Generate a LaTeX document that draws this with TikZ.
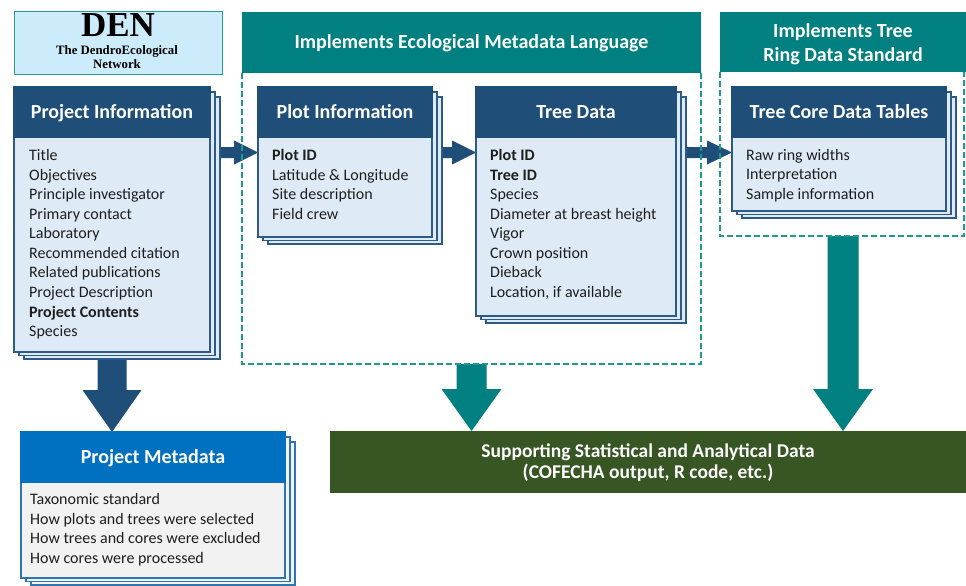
\documentclass[tikz,border=0pt]{standalone}
\usepackage{fontspec}
\setmainfont{Carlito}
\newfontfamily\denfont{Liberation Serif}
\usetikzlibrary{calc}
\definecolor{hdblue}{HTML}{1F4E79}
\definecolor{cardfill}{HTML}{DEEBF7}
\definecolor{cardline}{HTML}{2E5A88}
\definecolor{tealc}{HTML}{008080}
\definecolor{dashc}{HTML}{1F9A92}
\definecolor{denfill}{HTML}{CCECFB}
\definecolor{denline}{HTML}{2A9C96}
\definecolor{pmhead}{HTML}{0070C0}
\definecolor{pmfill}{HTML}{F2F2F2}
\definecolor{pmline}{HTML}{2E75B6}
\definecolor{greenc}{HTML}{375623}
\definecolor{txt}{HTML}{1E1E1E}
\newcommand\backsheets[5]{%
  \draw[#5] (#1+10,#2+10) rectangle (#3+10,#4+7);
  \draw[#5] (#1+5,#2+5) rectangle (#3+5,#4+3.5);}
\newcommand\harrow[6]{\fill[#1] ($(#2)+(0,-#4)$) -- ($(#3)+(-#6,-#4)$) -- ($(#3)+(-#6,-#5)$) -- (#3) -- ($(#3)+(-#6,#5)$) -- ($(#3)+(-#6,#4)$) -- ($(#2)+(0,#4)$) -- cycle;}
\newcommand\varrow[6]{\fill[#1] ($(#2)+(-#4,0)$) -- ($(#3)+(-#4,-#6)$) -- ($(#3)+(-#5,-#6)$) -- (#3) -- ($(#3)+(#5,-#6)$) -- ($(#3)+(#4,-#6)$) -- ($(#2)+(#4,0)$) -- cycle;}
\begin{document}
\begin{tikzpicture}[x=1pt,y=-1pt,
  sheet/.style={draw=cardline, fill=cardfill, line width=1.1pt},
  pmsheet/.style={draw=pmline, fill=pmfill, line width=1.1pt},
  cardhead/.style={draw=hdblue, fill=hdblue, line width=1.1pt, text=white,
    font=\fontsize{20}{24}\selectfont\bfseries, text height=12.8pt, text depth=0pt,
    inner sep=0pt, outer sep=0pt, anchor=south west, minimum height=50pt},
  cardbody/.style={draw=cardline, fill=cardfill, line width=1.1pt, anchor=north west,
    inner sep=0pt, outer sep=0pt},
  bodytext/.style={anchor=north west, align=left, inner sep=0pt, text=txt,
    font=\fontsize{16}{19.55}\selectfont},
  band/.style={fill=tealc, inner sep=0pt, outer sep=0pt, anchor=north west, text=white,
    font=\fontsize{20}{23.3}\selectfont\bfseries},
  bandtext/.style={anchor=north, align=center, inner sep=0pt, text=white},
  region/.style={draw=dashc, line width=1.8pt, dash pattern=on 6pt off 3pt},
  bluearrow/.style={fill=hdblue},
  tealarrow/.style={fill=tealc},
  dentext/.style={anchor=base, inner sep=0pt},
]
\useasboundingbox (0,0) rectangle (966,586);

\coordinate (ay) at (0,152.5);
\coordinate (emlbot) at (0,364);
\coordinate (trbot) at (0,236);

% geometry nodes used by the connectors
\path node[cardbody, draw=none, fill=none, minimum width=196pt, minimum height=215pt] (pibody) at (14,137) {};
\path node[cardbody, draw=none, fill=none, minimum width=174pt, minimum height=100pt] (plotbody) at (258,137) {};
\path node[cardbody, draw=none, fill=none, minimum width=200pt, minimum height=179pt] (treebody) at (476,137) {};
\path node[cardbody, draw=none, fill=none, minimum width=214pt, minimum height=74pt] (corebody) at (732,137) {};
\path node[band, fill=none, minimum width=264pt, minimum height=50pt] (pmhead) at (21,432) {};
\path node[band, fill=none, minimum width=459pt, minimum height=61pt] (emlband) at (242,12) {};
\path node[band, fill=none, minimum width=246pt, minimum height=60pt] (trband) at (720,12) {};
\path node[band, fill=none, minimum width=636pt, minimum height=62pt] (supp) at (330,431) {};

% ---- arrows ----
\harrow{bluearrow}{pibody.east |- ay}{plotbody.west |- ay}{5.5}{12}{24}
\harrow{bluearrow}{plotbody.east |- ay}{treebody.west |- ay}{5.5}{12}{24}
\harrow{bluearrow}{treebody.east |- ay}{corebody.west |- ay}{5.5}{12}{25}
\varrow{bluearrow}{pibody.south}{pibody.south |- pmhead.north}{14.5}{29.5}{42}
\varrow{tealarrow}{emlband.south |- emlbot}{emlband.south |- supp.north}{15}{30}{42}
\varrow{tealarrow}{trband.south |- trbot}{trband.south |- supp.north}{15.5}{30}{42}

% ---- DEN box ----
\node[draw=denline, fill=denfill, line width=1.3pt, minimum width=208pt, minimum height=63pt,
  anchor=north west, inner sep=0pt] (den) at (14,11) {};
\node[dentext, font=\denfont\bfseries\fontsize{35}{35}\selectfont] (dentitle) at (118,36.7) {DEN};
\node[dentext, font=\denfont\bfseries\fontsize{12.8}{13}\selectfont] (densub1) at (117,54.5) {The DendroEcological};
\node[dentext, font=\denfont\bfseries\fontsize{12.8}{13}\selectfont] (densub2) at (117,68) {Network};

% ---- regions ----
\node[band, minimum width=459pt, minimum height=61pt, text height=12.8pt, text depth=0pt, align=center]
  (emlbandfill) at (242,12) {Implements Ecological Metadata Language};
\draw[region] (emlband.south west) -- (emlband.south west |- emlbot) -- (emlband.south east |- emlbot) -- (emlband.south east);
\node[band, minimum width=246pt, minimum height=60pt] (trbandfill) at (720,12) {};
\node[bandtext, font=\fontsize{20}{23.3}\selectfont\bfseries] (trtext) at (843,21.4)
  {\strut Implements Tree\\Ring Data Standard};
\draw[region] (trband.south west) -- (trband.south west |- trbot) -- ($(trband.south east |- trbot)+(-2,0)$) -- ($(trband.south east)+(-2,0)$);

% ---- Project Information card ----
\backsheets{14}{87}{210}{352}{sheet}
\node[cardbody, minimum width=196pt, minimum height=215pt] (pibodyd) at (14,137) {};
\node[cardhead, minimum width=196pt] (pihead) at (pibodyd.north west) {Project Information};
\node[bodytext] (pitext) at (29,146.8) {\strut Title\\Objectives\\Principle investigator\\Primary contact\\Laboratory\\Recommended citation\\Related publications\\Project Description\\\textbf{Project Contents}\\Species};

% ---- Plot Information card ----
\backsheets{258}{87}{432}{237}{sheet}
\node[cardbody, minimum width=174pt, minimum height=100pt] (plotbodyd) at (258,137) {};
\node[cardhead, minimum width=174pt] (plothead) at (plotbodyd.north west) {Plot Information};
\node[bodytext] (plottext) at (272,146.8) {\strut\textbf{Plot ID}\\Latitude \& Longitude\\Site description\\Field crew};

% ---- Tree Data card ----
\backsheets{476}{87}{676}{316}{sheet}
\node[cardbody, minimum width=200pt, minimum height=179pt] (treebodyd) at (476,137) {};
\node[cardhead, minimum width=200pt] (treehead) at (treebodyd.north west) {Tree Data};
\node[bodytext] (treetext) at (490,146.8) {\strut\textbf{Plot ID}\\\textbf{Tree ID}\\Species\\Diameter at breast height\\Vigor\\Crown position\\Dieback\\Location, if available};

% ---- Tree Core Data Tables card ----
\backsheets{732}{87}{946}{211}{sheet}
\node[cardbody, minimum width=214pt, minimum height=74pt] (corebodyd) at (732,137) {};
\node[cardhead, minimum width=214pt] (corehead) at (corebodyd.north west) {Tree Core Data Tables};
\node[bodytext] (coretext) at (746,146.3) {\strut Raw ring widths\\Interpretation\\Sample information};

% ---- Project Metadata card ----
\backsheets{21}{432}{285}{578}{pmsheet}
\node[cardbody, draw=pmline, fill=pmfill, minimum width=264pt, minimum height=96pt] (pmbody) at (21,482) {};
\node[cardhead, draw=pmhead, fill=pmhead, minimum width=264pt] (pmheadd) at (pmbody.north west) {Project Metadata};
\node[bodytext] (pmtext) at (30,490.6) {\strut Taxonomic standard\\How plots and trees were selected\\How trees and cores were excluded\\How cores were processed};

% ---- Supporting data ----
\node[band, fill=greenc, minimum width=636pt, minimum height=62pt] (suppd) at (330,431) {};
\node[bandtext, font=\fontsize{19.5}{21.5}\selectfont\bfseries] (supptext) at (648,442)
  {\strut Supporting Statistical and Analytical Data\\(COFECHA output, R code, etc.)};
\end{tikzpicture}
\end{document}
